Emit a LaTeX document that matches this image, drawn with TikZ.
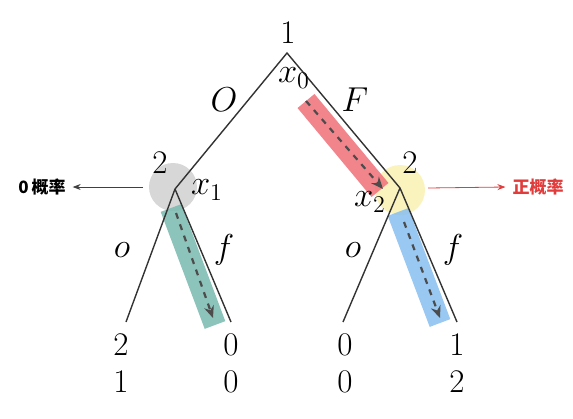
\documentclass[tikz,border=0pt]{standalone}
\usepackage{fontspec}
\usetikzlibrary{arrows.meta}
\newfontfamily\cjk{Noto Sans CJK SC}
\definecolor{bandred}{RGB}{240,110,120}
\definecolor{bandgreen}{RGB}{120,185,175}
\definecolor{bandblue}{RGB}{135,190,240}
\definecolor{dotyellow}{RGB}{250,243,190}
\definecolor{dotgrey}{RGB}{215,215,215}
\definecolor{tipred}{RGB}{225,60,60}
\begin{document}
\begin{tikzpicture}[x=0.5pt,y=-0.5pt,font=\fontsize{16.5}{19}\selectfont,
  band/.style={line width=11pt,opacity=0.85},
  path/.style={dashed,line width=1.1pt,color=black!70,-{Stealth[length=6pt,width=5pt]}},
  edge/.style={line width=0.7pt,color=black!80}]
\useasboundingbox (0,0) rectangle (573,418);
\coordinate (root) at (287,53);
\coordinate (nodeA) at (175,189);
\coordinate (nodeB) at (400,188);
\coordinate (leafAo) at (126,322);
\coordinate (leafAf) at (231,322);
\coordinate (leafBo) at (343,322);
\coordinate (leafBf) at (457,322);
\fill[dotgrey] (173,187) circle (12pt);
\fill[dotyellow] (400,190) circle (12.5pt);
\draw[band,bandred] (306,101) -- (380,190);
\draw[band,bandgreen] (171,208) -- (215,325);
\draw[band,bandblue] (398,212) -- (440,323);
\draw[path] (306,101) -- (383,189);
\draw[path] (176,213) -- (213,318);
\draw[path] (404,222) -- (440,318);
\draw[edge] (leafAo) -- (nodeA) -- (root) -- (nodeB) -- (leafBf);
\draw[edge] (nodeA) -- (leafAf);
\draw[edge] (nodeB) -- (leafBo);
\node (lroot) at (288,33) {1};
\node (lx0) at (294,78) {$x_0$};
\node (lO) at (224,100) {$O$};
\node (lF) at (355,100) {$F$};
\node (lA) at (160,163) {2};
\node (lx1) at (207,190) {$x_1$};
\node (lB) at (410,163) {2};
\node (lx2) at (370,202) {$x_2$};
\node (lAo) at (122,250) {$o$};
\node (lAf) at (224,250) {$f$};
\node (lBo) at (353,250) {$o$};
\node (lBf) at (453,250) {$f$};
\foreach \n/\x/\p/\q in {1/121/2/1,2/231/0/0,3/345/0/0,4/457/1/2} {
  \node (pa\n) at (\x,345) {\p};
  \node (pb\n) at (\x,382) {\q};
}
\node[font=\cjk\fontsize{8.5}{10}\selectfont\bfseries] (zero) at (42,187) {0\,概率};
\node[font=\cjk\fontsize{8.5}{10}\selectfont\bfseries,text=tipred] (pos) at (538,187) {正概率};
\draw[-{Stealth[length=4pt,width=3pt]},black!75] (143,187) -- (zero.east);
\draw[-{Stealth[length=4pt,width=3pt]},tipred] (428,188) -- (pos.west);
\end{tikzpicture}
\end{document}
